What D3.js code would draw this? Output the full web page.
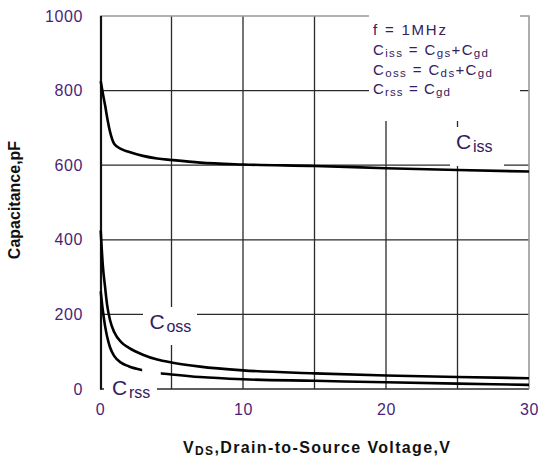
<!DOCTYPE html>
<html>
<head>
<meta charset="utf-8">
<script src="https://cdn.jsdelivr.net/npm/d3@7"></script>
<style>
  html, body { margin: 0; padding: 0; background: #fff; }
  svg { display: block; font-family: "Liberation Sans", Arial, sans-serif; }
</style>
</head>
<body>
<svg id="chart" width="539" height="460"></svg>
<script>
// ── Data ──────────────────────────────────────────────
const vds  = [0.05, 0.2, 0.35, 0.5, 0.7, 1, 1.5, 2, 3, 4, 5, 7, 10, 15, 20, 25, 30];
const ciss = [825, 792, 762, 728, 690, 657, 643, 636, 625, 618, 614, 607, 602, 598, 592, 587, 583];
const coss = [425, 330, 275, 225, 185, 152, 125, 111, 92, 79, 71, 60, 50, 42, 36, 32, 29];
const crss = [262, 210, 170, 140, 112, 88, 70, 61, 50, 43, 39, 32, 26, 22, 18, 14.5, 11];

const xTicks = [0, 10, 20, 30];
const yTicks = [0, 200, 400, 600, 800, 1000];
const xGrid  = [5, 10, 15, 20, 25];
const yGrid  = [0, 200, 400, 600, 800];

// note rows: [text, isSubscript]
const notes = [
  [['f = 1MHz', 0]],
  [['C', 0], ['iss', 1], [' = C', 0], ['gs', 1], ['+C', 0], ['gd', 1]],
  [['C', 0], ['oss', 1], [' = C', 0], ['ds', 1], ['+C', 0], ['gd', 1]],
  [['C', 0], ['rss', 1], [' = C', 0], ['gd', 1]]
];
const noteWidths = [73, 115, 119, 77];

// ── Layout ────────────────────────────────────────────
const W = 539, H = 460;
const margin = { top: 16, right: 10, bottom: 71, left: 100 };

const svg = d3.select('#chart');

const x = d3.scaleLinear().domain([0, 30]).range([margin.left, W - margin.right]);
const y = d3.scaleLinear().domain([0, 1000]).range([H - margin.bottom, margin.top]);

const tickColor = '#4b1f78';
const textColor = '#33205e';

// ── Grid ──────────────────────────────────────────────
const grid = svg.append('g').attr('stroke', '#2a2a2a').attr('stroke-width', 1.3);

grid.selectAll('.vg').data(xGrid).join('line')
  .attr('x1', d => x(d)).attr('x2', d => x(d))
  .attr('y1', y(1000)).attr('y2', y(0));

grid.selectAll('.hg').data(yGrid).join('line')
  .attr('x1', x(0)).attr('x2', x(30))
  .attr('y1', d => y(d)).attr('y2', d => y(d));

// top + right frame (grey)
svg.append('path')
  .attr('d', `M${x(0)},${y(1000)}H${x(30)}V${y(0)}`)
  .attr('fill', 'none')
  .attr('stroke', '#9a9a9a')
  .attr('stroke-width', 1.6);

// left axis line
svg.append('line')
  .attr('x1', x(0) + 1).attr('x2', x(0) + 1)
  .attr('y1', y(1000)).attr('y2', y(0) + 0.6)
  .attr('stroke', '#111').attr('stroke-width', 2.2);

// ── White clearance boxes behind the labels ───────────
const boxes = [
  [369, 9, 151, 112],   // notes
  [450, 127, 54, 39],   // Ciss
  [143, 307, 54, 38],   // Coss
  [104, 372, 53, 30]    // Crss
];
svg.selectAll('.box').data(boxes).join('rect')
  .attr('x', d => d[0]).attr('y', d => d[1])
  .attr('width', d => d[2]).attr('height', d => d[3])
  .attr('fill', '#fff');

// ── Curves ────────────────────────────────────────────
const line = d3.line()
  .x((d, i) => x(vds[i]))
  .y(d => y(d))
  .curve(d3.curveMonotoneX);

svg.selectAll('.curve').data([ciss, coss, crss]).join('path')
  .attr('d', line)
  .attr('fill', 'none')
  .attr('stroke', '#000')
  .attr('stroke-width', 2.6)
  .attr('stroke-linejoin', 'round');

// gap in the Crss curve next to its label
svg.append('rect')
  .attr('x', x(2.95)).attr('y', y(68))
  .attr('width', x(4.25) - x(2.95)).attr('height', y(30) - y(68))
  .attr('fill', '#fff');

// ── Axes (tick labels only) ───────────────────────────
const styleAxis = ax => {
  ax.select('.domain').remove();
  ax.attr('font-size', 16).attr('font-family', '"Liberation Sans", Arial, sans-serif');
  ax.selectAll('text').attr('fill', tickColor).attr('letter-spacing', 0.6);
};

svg.append('g')
  .attr('transform', `translate(${x(0)},0)`)
  .call(d3.axisLeft(y).tickValues(yTicks).tickFormat(d3.format('d')).tickSize(0).tickPadding(17))
  .call(styleAxis);

svg.append('g')
  .attr('transform', `translate(0,${y(0)})`)
  .call(d3.axisBottom(x).tickValues(xTicks).tickFormat(d3.format('d')).tickSize(0).tickPadding(15))
  .call(styleAxis);

// axis titles
const xTitle = svg.append('text')
  .attr('x', 183).attr('y', 453)
  .attr('font-size', 16).attr('font-weight', 'bold').attr('fill', '#111')
  .attr('textLength', 267).attr('lengthAdjust', 'spacing');
xTitle.append('tspan').text('V');
xTitle.append('tspan').attr('font-size', 12).attr('dy', 2).text('DS');
xTitle.append('tspan').attr('dy', -2).text(',Drain-to-Source Voltage,V');

svg.append('text')
  .attr('transform', 'translate(20,200) rotate(-90)')
  .attr('text-anchor', 'middle')
  .attr('font-size', 16).attr('font-weight', 'bold').attr('fill', '#111')
  .text('Capacitance,pF');

// ── Notes block ───────────────────────────────────────
notes.forEach((row, i) => {
  const t = svg.append('text')
    .attr('x', 373).attr('y', 35 + i * 19.8)
    .attr('font-size', 15).attr('fill', textColor)
    .attr('textLength', noteWidths[i]).attr('lengthAdjust', 'spacing');
  let prevSub = 0;
  row.forEach(([s, sub]) => {
    t.append('tspan')
      .attr('font-size', sub ? 11.5 : 15)
      .attr('dy', sub === prevSub ? 0 : (sub ? 2 : -2))
      .text(s);
    prevSub = sub;
  });
});

// ── Curve labels ──────────────────────────────────────
const curveLabels = [
  ['iss', 456, 149],
  ['oss', 149.5, 329],
  ['rss', 112, 395]
];
curveLabels.forEach(([sub, lx, ly]) => {
  const t = svg.append('text')
    .attr('x', lx).attr('y', ly)
    .attr('font-size', 21).attr('fill', textColor);
  t.append('tspan').text('C');
  t.append('tspan').attr('font-size', 16).attr('dx', 1.8).attr('dy', 2.5).text(sub);
});
</script>
</body>
</html>
